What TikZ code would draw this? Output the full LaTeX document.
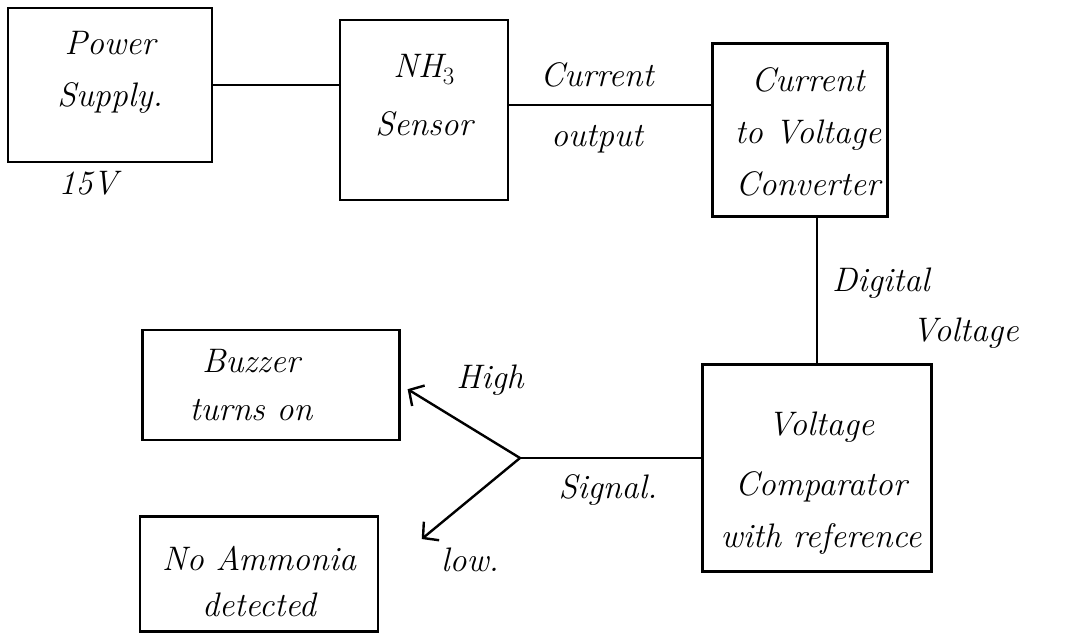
\documentclass[tikz,border=0pt]{standalone}
\usetikzlibrary{arrows.meta}
\begin{document}
\begin{tikzpicture}[x=1pt,y=-1pt,
  box/.style={draw=black,line width=2.6pt,inner sep=0pt},
  lbl/.style={inner sep=0pt,align=center,font=\fontsize{34}{52}\selectfont\itshape},
  wire/.style={draw=black,line width=2.4pt},
  arr/.style={wire,-{Straight Barb[length=11pt,width=24pt,line width=2.4pt]}}]
\useasboundingbox[fill=white] (0,0) rectangle (1070,637);
% boxes (centre, size)
\node[box,minimum width=204pt,minimum height=154pt] (ps) at (110,85) {};
\node[box,minimum width=168pt,minimum height=180pt] (nh3) at (424,110) {};
\node[box,minimum width=175pt,minimum height=173pt] (c2v) at (800,130) {};
\node[box,minimum width=229pt,minimum height=207pt] (cmp) at (817,468) {};
\node[box,minimum width=257pt,minimum height=110pt] (buzz) at (271,385) {};
\node[box,minimum width=238pt,minimum height=115pt] (noam) at (259,574) {};
% box texts
\node[lbl] (pst) at ([yshift=13pt]ps.center) {Power\\Supply.};
\node[lbl] (nh3t) at ([yshift=15pt]nh3.center) {NH$_3$\\[6pt]Sensor};
\node[lbl] (c2vt) at ([xshift=8pt,yshift=-2pt]c2v.center) {Current\\to Voltage\\Converter};
\node[lbl] (cmpt) at ([xshift=4pt,yshift=-15pt]cmp.center) {Voltage\\[8pt]Comparator\\with reference};
\node[lbl] (buzzt) at ([xshift=-20pt]buzz.center) {Buzzer\\[-4pt]turns on};
\node[lbl] (noamt) at ([yshift=-8pt]noam.center) {No Ammonia\\[-6pt]detected};
% labels
\node[lbl] (v15) at (88,183) {15V};
\node[lbl] (cur) at (597,108) {Current\\[8pt]output};
\node[lbl,anchor=west] (dig) at (832,283) {Digital};
\node[lbl,anchor=west] (dvolt) at (912,333) {Voltage};
\node[lbl] (high) at (490,380) {High};
\node[lbl] (low) at (470,560) {low.};
\node[lbl] (sig) at (608,490) {Signal.};
% connectors
\coordinate (j) at (520,458);
\draw[wire] (ps.east) -- (ps.east -| nh3.west);
\draw[wire] ([yshift=5pt]nh3.east) -- ([yshift=5pt]nh3.east -| c2v.west);
\draw[wire] (c2v.south -| cmp.north) -- (cmp.north);
\draw[wire] (j -| cmp.west) -- (j);
\draw[arr,shorten >=8pt] (j) -- (buzz.east);
\draw[arr,shorten >=55pt] (j) -- (noam.east);
\end{tikzpicture}
\end{document}
